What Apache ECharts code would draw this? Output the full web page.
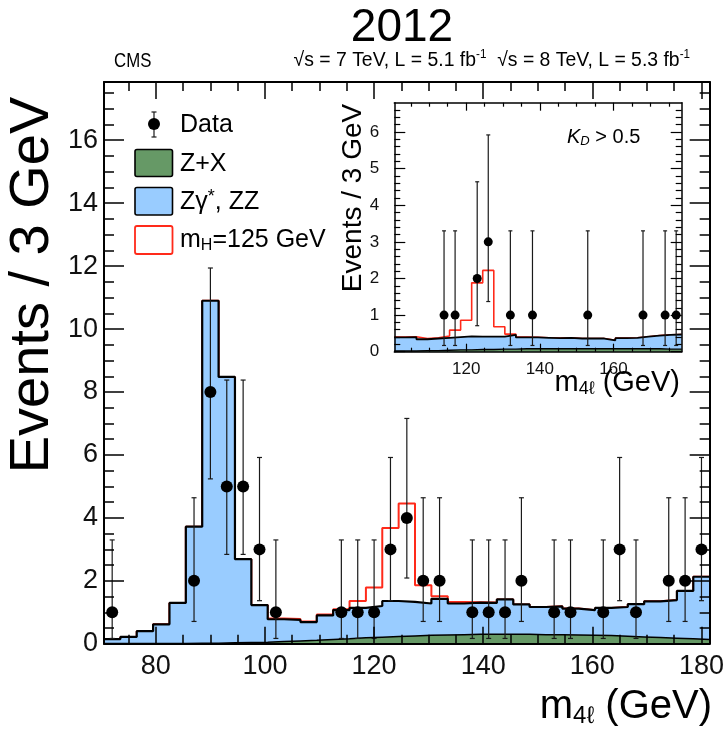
<!DOCTYPE html>
<html>
<head>
<meta charset="utf-8">
<script src="https://cdn.jsdelivr.net/npm/echarts@6/dist/echarts.min.js"></script>
<style>
  html, body { margin: 0; padding: 0; background: #fff; }
  #chart { width: 727px; height: 730px; }
</style>
</head>
<body>
<div id="chart"></div>
<script>
// ---- Main distribution: m4l in 3 GeV bins, 70.5 .. 181.5 GeV ----
const binWidth = 3;
const mainBinStart = 70.5;
// stacked background total (Z+X plus Zgamma*, ZZ), one value per bin
const mainBkgTotal = [0.15, 0.22, 0.40, 0.62, 1.30, 3.72, 10.9, 8.48, 2.69, 1.23,
  0.78, 0.76, 0.69, 0.90, 1.07, 1.14, 1.20, 1.36, 1.33, 1.28,
  1.43, 1.28, 1.31, 1.30, 1.41, 1.25, 1.17, 1.19, 1.12, 1.07,
  1.14, 1.17, 1.26, 1.35, 1.39, 1.68, 2.13];
// reducible background Z+X
const mainZX = [0.01, 0.01, 0.01, 0.01, 0.01, 0.02, 0.02, 0.03, 0.04, 0.05,
  0.07, 0.09, 0.11, 0.14, 0.16, 0.19, 0.21, 0.23, 0.25, 0.27,
  0.28, 0.29, 0.30, 0.30, 0.30, 0.30, 0.29, 0.29, 0.28, 0.27,
  0.26, 0.24, 0.22, 0.20, 0.18, 0.16, 0.14];
// background plus mH = 125 GeV signal
const mainSigBkg = [0.15, 0.22, 0.40, 0.62, 1.30, 3.72, 10.9, 8.48, 2.69, 1.23,
  0.80, 0.79, 0.71, 0.93, 1.10, 1.36, 1.79, 3.68, 4.46, 1.86,
  1.51, 1.33, 1.32, 1.31, 1.41, 1.25, 1.17, 1.19, 1.12, 1.07,
  1.14, 1.17, 1.26, 1.35, 1.39, 1.68, 2.13];
// observed events
const mainDataMass = [72, 87, 90, 93, 96, 99, 102, 114, 117, 120, 123, 126, 129, 132,
  138, 141, 144, 147, 153, 156, 162, 165, 168, 174, 177, 180];
const mainDataCount = [1, 2, 8, 5, 5, 3, 1, 1, 1, 1, 3, 4, 2, 2,
  1, 1, 1, 2, 1, 1, 1, 3, 1, 2, 2, 3];
const mainErrLow = [0.17, 0.71, 5.24, 2.84, 2.84, 1.37, 0.17, 0.17, 0.17, 0.17, 1.37, 2.09, 0.71, 0.71,
  0.17, 0.17, 0.17, 0.71, 0.17, 0.17, 0.17, 1.37, 0.17, 0.71, 0.71, 1.37];
const mainErrHigh = [3.30, 4.64, 11.94, 8.38, 8.38, 5.92, 3.30, 3.30, 3.30, 3.30, 5.92, 7.16, 4.64, 4.64,
  3.30, 3.30, 3.30, 4.64, 3.30, 3.30, 3.30, 5.92, 3.30, 4.64, 4.64, 5.92];

// ---- Inset: K_D > 0.5, 3 GeV bins, 100.5 .. 178.5 GeV ----
const insetBinStart = 100.5;
const insetBkgTotal = [0.39, 0.40, 0.34, 0.36, 0.38, 0.40, 0.42, 0.41, 0.41, 0.41,
  0.46, 0.39, 0.39, 0.38, 0.37, 0.38, 0.36, 0.36, 0.36, 0.31,
  0.37, 0.38, 0.41, 0.44, 0.46, 0.47];
const insetZX = [0.02, 0.02, 0.03, 0.03, 0.04, 0.05, 0.05, 0.06, 0.06, 0.07,
  0.07, 0.08, 0.08, 0.08, 0.08, 0.08, 0.08, 0.08, 0.08, 0.08,
  0.08, 0.08, 0.08, 0.08, 0.07, 0.07];
const insetSigBkg = [0.40, 0.41, 0.36, 0.38, 0.43, 0.59, 0.86, 1.88, 2.22, 0.68,
  0.48, 0.40, 0.39, 0.38, 0.37, 0.38, 0.36, 0.36, 0.36, 0.31,
  0.37, 0.38, 0.41, 0.44, 0.46, 0.47];
const insetDataMass = [114, 117, 123, 126, 132, 138, 153, 168, 174, 177];
const insetDataCount = [1, 1, 2, 3, 1, 1, 1, 1, 1, 1];
const insetErrLow = [0.17, 0.17, 0.71, 1.37, 0.17, 0.17, 0.17, 0.17, 0.17, 0.17];
const insetErrHigh = [3.30, 3.30, 4.64, 5.92, 3.30, 3.30, 3.30, 3.30, 3.30, 3.30];

// ---- Tick positions ----
const mainXMajor = [80, 100, 120, 140, 160, 180];
const mainXMinor = [75, 85, 90, 95, 105, 110, 115, 125, 130, 135, 145, 150, 155, 165, 170, 175];
const mainYMajor = [0, 2, 4, 6, 8, 10, 12, 14, 16];
const mainYMinor = [0.5, 1, 1.5, 2.5, 3, 3.5, 4.5, 5, 5.5, 6.5, 7, 7.5, 8.5, 9, 9.5,
  10.5, 11, 11.5, 12.5, 13, 13.5, 14.5, 15, 15.5, 16.5, 17, 17.5];
const insetXMajor = [120, 140, 160];
const insetXMinor = [105, 110, 115, 125, 130, 135, 145, 150, 155, 165, 170, 175];
const insetYMajor = [0, 1, 2, 3, 4, 5, 6];
const insetYMinor = [0.2, 0.4, 0.6, 0.8, 1.2, 1.4, 1.6, 1.8, 2.2, 2.4, 2.6, 2.8,
  3.2, 3.4, 3.6, 3.8, 4.2, 4.4, 4.6, 4.8, 5.2, 5.4, 5.6, 5.8, 6.2, 6.4, 6.6];

const FONT = "'Liberation Sans', Arial, Helvetica, sans-serif";
const BLUE = '#99ccff';
const GREEN = '#669966';
const RED = '#ff2a1a';

// histogram values -> step polyline points (last bin closed at its upper edge)
function stepPoints(start, vals) {
  const pts = vals.map((v, i) => [start + i * binWidth, v]);
  pts.push([start + vals.length * binWidth, vals[vals.length - 1]]);
  return pts;
}

function axisDef(grid, pos, min, max, ticks, len, opts) {
  opts = opts || {};
  return {
    type: 'value', gridIndex: grid, position: pos, min: min, max: max, z: 10,
    axisLine: { show: !!opts.line, onZero: false, lineStyle: { color: '#000', width: opts.lineWidth || 2 } },
    axisTick: { show: true, inside: true, length: len, customValues: ticks,
      lineStyle: { color: '#000', width: opts.tickWidth || 1.5 } },
    axisLabel: opts.label ? Object.assign({ show: true, customValues: ticks, color: '#111',
      fontFamily: FONT }, opts.label) : { show: false },
    splitLine: { show: false }
  };
}

const mainX = [70.5, 181.5], mainY = [0, 17.85];
const insX = [100.5, 178.5], insY = [0, 6.8];

const xAxes = [
  axisDef(0, 'bottom', mainX[0], mainX[1], mainXMajor, 17, { line: true, label: { fontSize: 27, margin: 9 } }),
  axisDef(0, 'bottom', mainX[0], mainX[1], mainXMinor, 9),
  axisDef(0, 'top', mainX[0], mainX[1], mainXMajor, 17, { line: true }),
  axisDef(0, 'top', mainX[0], mainX[1], mainXMinor, 9),
  axisDef(1, 'bottom', insX[0], insX[1], insetXMajor, 8, { line: true, lineWidth: 1.5, tickWidth: 1.2, label: { fontSize: 17, margin: 9 } }),
  axisDef(1, 'bottom', insX[0], insX[1], insetXMinor, 4, { tickWidth: 1.2 }),
  axisDef(1, 'top', insX[0], insX[1], insetXMajor, 8, { line: true, lineWidth: 1.5, tickWidth: 1.2 }),
  axisDef(1, 'top', insX[0], insX[1], insetXMinor, 4, { tickWidth: 1.2 })
];
const yAxes = [
  axisDef(0, 'left', mainY[0], mainY[1], mainYMajor, 20, { line: true, label: { fontSize: 27, margin: 6 } }),
  axisDef(0, 'left', mainY[0], mainY[1], mainYMinor, 10),
  axisDef(0, 'right', mainY[0], mainY[1], mainYMajor, 20, { line: true }),
  axisDef(0, 'right', mainY[0], mainY[1], mainYMinor, 10),
  axisDef(1, 'left', insY[0], insY[1], insetYMajor, 11, { line: true, lineWidth: 1.5, tickWidth: 1.2, label: { fontSize: 17, margin: 15 } }),
  axisDef(1, 'left', insY[0], insY[1], insetYMinor, 6, { tickWidth: 1.2 }),
  axisDef(1, 'right', insY[0], insY[1], insetYMajor, 11, { line: true, lineWidth: 1.5, tickWidth: 1.2 }),
  axisDef(1, 'right', insY[0], insY[1], insetYMinor, 6, { tickWidth: 1.2 })
];

function histSeries(xi, yi, start, vals, fill, lineColor, lineWidth, z) {
  return {
    type: 'line', xAxisIndex: xi, yAxisIndex: yi, step: 'end', z: z,
    data: stepPoints(start, vals), symbol: 'none', silent: true, animation: false,
    lineStyle: { color: lineColor, width: lineWidth },
    areaStyle: fill ? { color: fill, opacity: 1, origin: 'start' } : undefined
  };
}

function errorBarSeries(xi, yi, xs, lo, hi, cap) {
  return {
    type: 'custom', xAxisIndex: xi, yAxisIndex: yi, z: 5, animation: false, silent: true,
    data: xs.map((x, i) => [x, lo[i], hi[i]]),
    encode: { x: 0, y: [1, 2] },
    renderItem: function (params, api) {
      const pLo = api.coord([api.value(0), api.value(1)]);
      const pHi = api.coord([api.value(0), api.value(2)]);
      const st = { stroke: '#1a1a1a', lineWidth: 1.2 };
      return {
        type: 'group', children: [
          { type: 'line', shape: { x1: pLo[0], y1: pLo[1], x2: pHi[0], y2: pHi[1] }, style: st },
          { type: 'line', shape: { x1: pLo[0] - cap, y1: pLo[1], x2: pLo[0] + cap, y2: pLo[1] }, style: st },
          { type: 'line', shape: { x1: pHi[0] - cap, y1: pHi[1], x2: pHi[0] + cap, y2: pHi[1] }, style: st }
        ]
      };
    }
  };
}

function pointSeries(xi, yi, xs, counts, size) {
  return {
    type: 'scatter', xAxisIndex: xi, yAxisIndex: yi, z: 6, animation: false, silent: true,
    symbol: 'circle', symbolSize: size, itemStyle: { color: '#000', opacity: 1 },
    data: xs.map((x, i) => [x, counts[i]])
  };
}

const series = [
  histSeries(0, 0, mainBinStart, mainSigBkg, null, RED, 2, 2),
  histSeries(0, 0, mainBinStart, mainBkgTotal, BLUE, '#000', 2.2, 3),
  histSeries(0, 0, mainBinStart, mainZX, GREEN, '#000', 1.5, 4),
  errorBarSeries(0, 0, mainDataMass, mainErrLow, mainErrHigh, 2.5),
  pointSeries(0, 0, mainDataMass, mainDataCount, 12),
  histSeries(4, 4, insetBinStart, insetSigBkg, null, RED, 1.6, 2),
  histSeries(4, 4, insetBinStart, insetBkgTotal, BLUE, '#000', 1.8, 3),
  histSeries(4, 4, insetBinStart, insetZX, GREEN, '#000', 1.4, 4),
  errorBarSeries(4, 4, insetDataMass, insetErrLow, insetErrHigh, 2),
  pointSeries(4, 4, insetDataMass, insetDataCount, 9)
];

function txt(x, y, rich, text, align, vAlign, extra) {
  return Object.assign({
    type: 'text', x: x, y: y, z: 20, silent: true,
    style: { text: text, rich: rich, fill: '#000', fontFamily: FONT,
      align: align, textAlign: align, verticalAlign: vAlign, textVerticalAlign: vAlign }
  }, extra || {});
}

const graphics = [
  // header
  txt(402, 28, { a: { fontSize: 46, fontFamily: FONT } }, '{a|2012}', 'center', 'middle'),
  txt(114, 61, { a: { fontSize: 20, fontFamily: FONT } }, '{a|CMS}', 'left', 'middle',
    { scaleX: 0.84, originX: 0, originY: 0 }),
  txt(690, 60, {
    a: { fontSize: 20, fontFamily: FONT, lineHeight: 22 },
    u: { fontSize: 12, fontFamily: FONT, lineHeight: 4, verticalAlign: 'top' }
  }, '{a|√s = 7 TeV, L = 5.1 fb}{u|-1}{a|  √s = 8 TeV, L = 5.3 fb}{u|-1}', 'right', 'middle',
    { scaleX: 0.97, originX: 0, originY: 0 }),
  // main axis titles
  txt(33, 285, { a: { fontSize: 56, fontFamily: FONT } }, '{a|Events / 3 GeV}', 'center', 'middle',
    { rotation: Math.PI / 2 }),
  txt(712, 707, {
    a: { fontSize: 40, fontFamily: FONT, lineHeight: 42 },
    s: { fontSize: 24, fontFamily: FONT, lineHeight: 8, verticalAlign: 'bottom' }
  }, '{a|m}{s|4ℓ}{a| (GeV)}', 'right', 'middle'),
  // inset titles
  txt(353, 198, { a: { fontSize: 28, fontFamily: FONT } }, '{a|Events / 3 GeV}', 'center', 'middle',
    { rotation: Math.PI / 2 }),
  txt(680, 383, {
    a: { fontSize: 29, fontFamily: FONT, lineHeight: 30 },
    s: { fontSize: 18, fontFamily: FONT, lineHeight: 6, verticalAlign: 'bottom' }
  }, '{a|m}{s|4ℓ}{a| (GeV)}', 'right', 'middle'),
  txt(567, 137, {
    k: { fontSize: 20, fontFamily: FONT, fontStyle: 'italic', lineHeight: 22 },
    s: { fontSize: 13, fontFamily: FONT, fontStyle: 'italic', lineHeight: 5, verticalAlign: 'bottom' },
    a: { fontSize: 20, fontFamily: FONT, lineHeight: 22 }
  }, '{k|K}{s|D}{a| > 0.5}', 'left', 'middle'),
  // legend: data marker with error bar
  { type: 'line', z: 20, silent: true, shape: { x1: 154, y1: 112, x2: 154, y2: 137 }, style: { stroke: '#1a1a1a', lineWidth: 1.2 } },
  { type: 'line', z: 20, silent: true, shape: { x1: 151.5, y1: 112, x2: 156.5, y2: 112 }, style: { stroke: '#1a1a1a', lineWidth: 1.2 } },
  { type: 'line', z: 20, silent: true, shape: { x1: 151.5, y1: 137, x2: 156.5, y2: 137 }, style: { stroke: '#1a1a1a', lineWidth: 1.2 } },
  { type: 'circle', z: 21, silent: true, shape: { cx: 154, cy: 124, r: 6 }, style: { fill: '#000' } },
  txt(180, 125, { a: { fontSize: 25, fontFamily: FONT } }, '{a|Data}', 'left', 'middle'),
  // legend: boxes
  { type: 'rect', z: 20, silent: true, shape: { x: 135, y: 149.5, width: 37.5, height: 27, r: 2 }, style: { fill: GREEN, stroke: '#000', lineWidth: 1.6 } },
  txt(180, 164, { a: { fontSize: 25, fontFamily: FONT } }, '{a|Z+X}', 'left', 'middle'),
  { type: 'rect', z: 20, silent: true, shape: { x: 135, y: 187.5, width: 37.5, height: 27.5, r: 2 }, style: { fill: BLUE, stroke: '#000', lineWidth: 1.6 } },
  txt(180, 202, {
    a: { fontSize: 25, fontFamily: FONT, lineHeight: 28 },
    u: { fontSize: 18, fontFamily: FONT, lineHeight: 12, verticalAlign: 'top' }
  }, '{a|Zγ}{u|*}{a|, ZZ}', 'left', 'middle'),
  { type: 'rect', z: 20, silent: true, shape: { x: 135, y: 226, width: 37.5, height: 28, r: 2 }, style: { fill: '#fff', stroke: RED, lineWidth: 1.8 } },
  txt(180, 240, {
    a: { fontSize: 25, fontFamily: FONT, lineHeight: 28 },
    s: { fontSize: 16, fontFamily: FONT, lineHeight: 6, verticalAlign: 'bottom' }
  }, '{a|m}{s|H}{a|=125 GeV}', 'left', 'middle')
];

const chart = echarts.init(document.getElementById('chart'), null, { renderer: 'canvas' });
chart.setOption({
  animation: false,
  backgroundColor: '#fff',
  grid: [
    { left: 104, top: 82, width: 607.7, height: 561.8, show: false },
    { left: 394.3, top: 102.7, width: 287.4, height: 249, show: true, backgroundColor: '#fff', borderWidth: 0, z: 1 }
  ],
  xAxis: xAxes,
  yAxis: yAxes,
  series: series,
  graphic: { elements: graphics }
});
</script>
</body>
</html>
